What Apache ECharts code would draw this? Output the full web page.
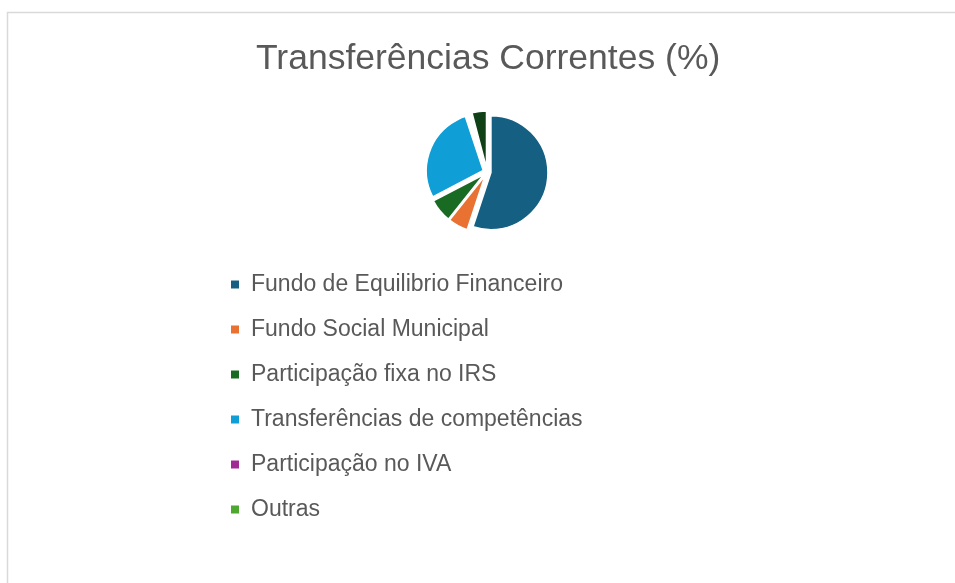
<!DOCTYPE html>
<html>
<head>
<meta charset="utf-8">
<script src="https://cdn.jsdelivr.net/npm/echarts@6/dist/echarts.min.js"></script>
<style>
  html, body { margin: 0; padding: 0; background: #fff; }
  #chart { width: 955px; height: 583px; }
</style>
</head>
<body>
<div id="chart"></div>
<script>
// categorias visíveis na legenda
var categories = [
  'Fundo de Equilibrio Financeiro',
  'Fundo Social Municipal',
  'Participação fixa no IRS',
  'Transferências de competências',
  'Participação no IVA',
  'Outras'
];
// fatia escura do topo (legenda cortada na imagem)
var extraCategory = 'Outras transferências';
var values = [54, 5.5, 6.5, 27, 0, 0];
var extraValue = 4;
var colors = ['#156082', '#E97132', '#196B24', '#0F9ED5', '#A02B93', '#4EA72E'];
var extraColor = '#0F4016';

var chart = echarts.init(document.getElementById('chart'));

var pieData = categories.map(function (name, i) {
  return { name: name, value: values[i], selected: true, itemStyle: { color: colors[i] } };
});
// pequeno espaço vazio antes da fatia escura
pieData.push({ name: '', value: 1, itemStyle: { color: 'rgba(0,0,0,0)', borderWidth: 0 } });
pieData.push({ name: extraCategory, value: extraValue, selected: true, itemStyle: { color: extraColor } });

var option = {
  animation: false,
  title: {
    text: 'Transferências Correntes (%)',
    left: 251,
    top: 36,
    textStyle: {
      fontFamily: 'Liberation Sans',
      fontSize: 35.5,
      fontWeight: 'normal',
      color: '#595959'
    }
  },
  legend: {
    orient: 'vertical',
    left: 224,
    top: 268,
    data: categories,
    icon: 'rect',
    itemWidth: 10,
    itemHeight: 10,
    itemGap: 22,
    selectedMode: false,
    textStyle: {
      fontFamily: 'Liberation Sans',
      fontSize: 23,
      lineHeight: 20,
      color: '#595959',
      padding: [0, 0, 0, 6]
    }
  },
  graphic: [{
    type: 'rect',
    shape: { x: 7.5, y: 12.5, width: 1000, height: 700 },
    style: { fill: 'none', stroke: '#d9d9d9', lineWidth: 1.5 },
    silent: true
  }],
  series: [{
    type: 'pie',
    center: [487, 172],
    radius: 57,
    startAngle: 90,
    clockwise: true,
    selectedMode: 'multiple',
    selectedOffset: 4,
    label: { show: false },
    labelLine: { show: false },
    itemStyle: { borderColor: '#fff', borderWidth: 1.5 },
    emphasis: { disabled: true },
    data: pieData
  }]
};

chart.setOption(option);
</script>
</body>
</html>
